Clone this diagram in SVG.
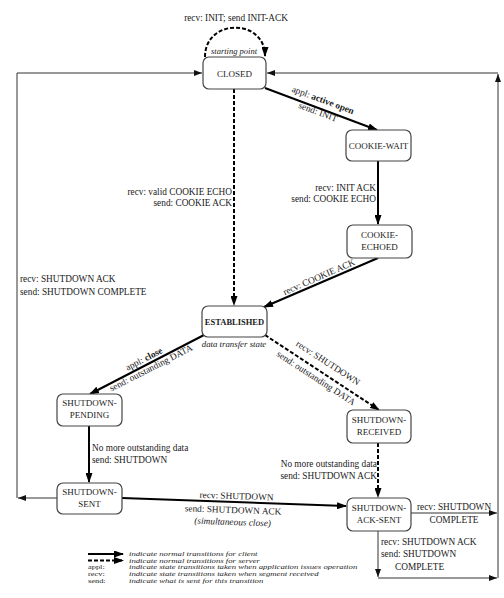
<svg xmlns="http://www.w3.org/2000/svg" width="504" height="598" viewBox="0 0 504 598">
<style>
text{font-family:"Liberation Serif","Times New Roman",serif;fill:#1a1a1a}
.lb{font-size:9.3px}
.nd{font-size:9px;text-anchor:middle}
.it{font-style:italic}
.box{fill:#fff;stroke:#444;stroke-width:1.2}
.solid{fill:none;stroke:#000;stroke-width:2}
.dash{fill:none;stroke:#000;stroke-width:2;stroke-dasharray:4 2}
.thin{fill:none;stroke:#333;stroke-width:1}
.lg{font-size:6px;font-style:italic}
.lk{font-size:6px}
</style>
<defs>
<marker id="ah" markerUnits="userSpaceOnUse" markerWidth="10" markerHeight="7" refX="9" refY="3.5" orient="auto">
<path d="M0,0 L10,3.5 L0,7 z" fill="#000"/>
</marker>
<marker id="at" markerUnits="userSpaceOnUse" markerWidth="8" markerHeight="6" refX="8" refY="3" orient="auto">
<path d="M0,0 L8,3 L0,6 z" fill="#111"/>
</marker>
</defs>

<g id="connectors">
<path class="dash" d="M205,57 C205,18 265,18 265,56" marker-end="url(#ah)"/>
<path class="solid" d="M265,88 L377,130" marker-end="url(#ah)"/>
<path class="dash" d="M234,89 L234,305" marker-end="url(#ah)"/>
<path class="solid" d="M378,161 L378,224" marker-end="url(#ah)"/>
<path class="solid" d="M378,258 L264,307" marker-end="url(#ah)"/>
<path class="solid" d="M204,335 L90,394" marker-end="url(#ah)"/>
<path class="dash" d="M265,335 L379,410" marker-end="url(#ah)"/>
<path class="solid" d="M89,426 L89,482" marker-end="url(#ah)"/>
<path class="dash" d="M378,443 L378,497" marker-end="url(#ah)"/>
<path class="solid" d="M122,498 L346,506" marker-end="url(#ah)"/>
<path class="thin" d="M57,498 L18,498" marker-end="url(#at)"/>
<path class="thin" d="M17,498 L17,73 L202,73" marker-end="url(#at)"/>
<path class="thin" d="M411,513 L497,513" marker-end="url(#at)"/>
<path class="thin" d="M378,531 L378,577" marker-end="url(#at)"/>
<path class="thin" d="M378,578 L497,578" marker-end="url(#at)"/>
<path class="thin" d="M498,578 L498,74" marker-end="url(#at)"/>
<path class="thin" d="M498,73 L267,73" marker-end="url(#at)"/>
</g>

<g id="labels">
<text class="lb" x="236" y="21" text-anchor="middle">recv: INIT; send INIT-ACK</text>
<text class="lb it" x="234" y="54" text-anchor="middle" style="font-size:8.5px">starting point</text>
<g transform="translate(323,100) rotate(20.4)"><text class="lb" x="0" y="3" text-anchor="middle">appl: <tspan font-weight="bold">active open</tspan></text></g>
<g transform="translate(318,112) rotate(20.4)"><text class="lb" x="0" y="3" text-anchor="middle">send: INIT</text></g>
<text class="lb" x="232" y="195" text-anchor="end">recv: valid COOKIE ECHO</text>
<text class="lb" x="232" y="206" text-anchor="end">send: COOKIE ACK</text>
<text class="lb" x="376" y="191" text-anchor="end">recv: INIT ACK</text>
<text class="lb" x="376" y="202" text-anchor="end">send: COOKIE ECHO</text>
<g transform="translate(319,277) rotate(-23.5)"><text class="lb" x="0" y="3" text-anchor="middle">recv: COOKIE ACK</text></g>
<text class="lb" x="20" y="282">recv: SHUTDOWN ACK</text>
<text class="lb" x="20" y="295">send: SHUTDOWN COMPLETE</text>
<text class="lb it" x="234" y="347" text-anchor="middle" style="font-size:8.8px">data transfer state</text>
<g transform="translate(144,359) rotate(-27.2)"><text class="lb" x="0" y="3" text-anchor="middle">appl: <tspan font-weight="bold">close</tspan></text></g>
<g transform="translate(151,368) rotate(-27.2)"><text class="lb" x="0" y="3" text-anchor="middle">send: outstanding DATA</text></g>
<g transform="translate(328,363) rotate(33.1)"><text class="lb" x="0" y="3" text-anchor="middle">recv: SHUTDOWN</text></g>
<g transform="translate(316,378) rotate(33.1)"><text class="lb" x="0" y="3" text-anchor="middle">send: outstanding DATA</text></g>
<text class="lb" x="92" y="451">No more outstanding data</text>
<text class="lb" x="92" y="463">send: SHUTDOWN</text>
<text class="lb" x="377" y="467" text-anchor="end">No more outstanding data</text>
<text class="lb" x="377" y="479" text-anchor="end">send: SHUTDOWN ACK</text>
<g transform="rotate(2,234,513)">
<text class="lb" x="236" y="499" text-anchor="middle">recv: SHUTDOWN</text>
<text class="lb" x="233" y="513" text-anchor="middle">send: SHUTDOWN ACK</text>
<text class="lb it" x="233" y="525" text-anchor="middle">(simultaneous close)</text>
</g>
<text class="lb" x="417" y="510">recv: SHUTDOWN</text>
<text class="lb" x="454" y="523" text-anchor="middle">COMPLETE</text>
<text class="lb" x="381" y="545">recv: SHUTDOWN ACK</text>
<text class="lb" x="381" y="557">send: SHUTDOWN</text>
<text class="lb" x="395" y="570">COMPLETE</text>
</g>

<g id="CLOSED">
<rect class="box" x="203" y="57" width="63" height="32" rx="6"/>
<text class="nd" x="234.5" y="76.5">CLOSED</text>
</g>
<g id="COOKIE-WAIT">
<rect class="box" x="346" y="130" width="65" height="31" rx="6"/>
<text class="nd" x="378.5" y="149">COOKIE-WAIT</text>
</g>
<g id="COOKIE-ECHOED">
<rect class="box" x="347" y="225" width="65" height="33" rx="6"/>
<text class="nd" x="379.5" y="238">COOKIE-</text>
<text class="nd" x="379.5" y="250">ECHOED</text>
</g>
<g id="ESTABLISHED">
<rect class="box" x="202" y="306" width="65" height="31" rx="6"/>
<text class="nd" x="234.5" y="324.5" font-weight="bold" style="font-size:8.5px">ESTABLISHED</text>
</g>
<g id="SHUTDOWN-PENDING">
<rect class="box" x="57" y="394" width="65" height="32" rx="6"/>
<text class="nd" x="89.5" y="406">SHUTDOWN-</text>
<text class="nd" x="89.5" y="418">PENDING</text>
</g>
<g id="SHUTDOWN-SENT">
<rect class="box" x="57" y="483" width="65" height="31" rx="6"/>
<text class="nd" x="89.5" y="494.5">SHUTDOWN-</text>
<text class="nd" x="89.5" y="506.5">SENT</text>
</g>
<g id="SHUTDOWN-RECEIVED">
<rect class="box" x="347" y="410" width="64" height="33" rx="6"/>
<text class="nd" x="379" y="423">SHUTDOWN-</text>
<text class="nd" x="379" y="435">RECEIVED</text>
</g>
<g id="SHUTDOWN-ACK-SENT">
<rect class="box" x="347" y="498" width="64" height="33" rx="6"/>
<text class="nd" x="379" y="511">SHUTDOWN-</text>
<text class="nd" x="379" y="523">ACK-SENT</text>
</g>

<g id="legend">
<path class="solid" d="M88,554 L123,554" marker-end="url(#ah)"/>
<path class="dash" d="M88,560.5 L123,560.5" marker-end="url(#ah)"/>
<g transform="translate(88,0) scale(1.4,1)">
<text class="lk" x="0" y="569.5">appl:</text>
<text class="lk" x="0" y="576.3">recv:</text>
<text class="lk" x="0" y="583.1">send:</text>
</g>
<g transform="translate(129,0) scale(1.45,1)">
<text class="lg" x="0" y="556">indicate normal transitions for client</text>
<text class="lg" x="0" y="562.8">indicate normal transitions for server</text>
<text class="lg" x="0" y="569.5">indicate state transitions taken when application issues operation</text>
<text class="lg" x="0" y="576.3">indicate state transitions taken when segment received</text>
<text class="lg" x="0" y="583.1">indicate what is sent for this transition</text>
</g>
</g>
</svg>
